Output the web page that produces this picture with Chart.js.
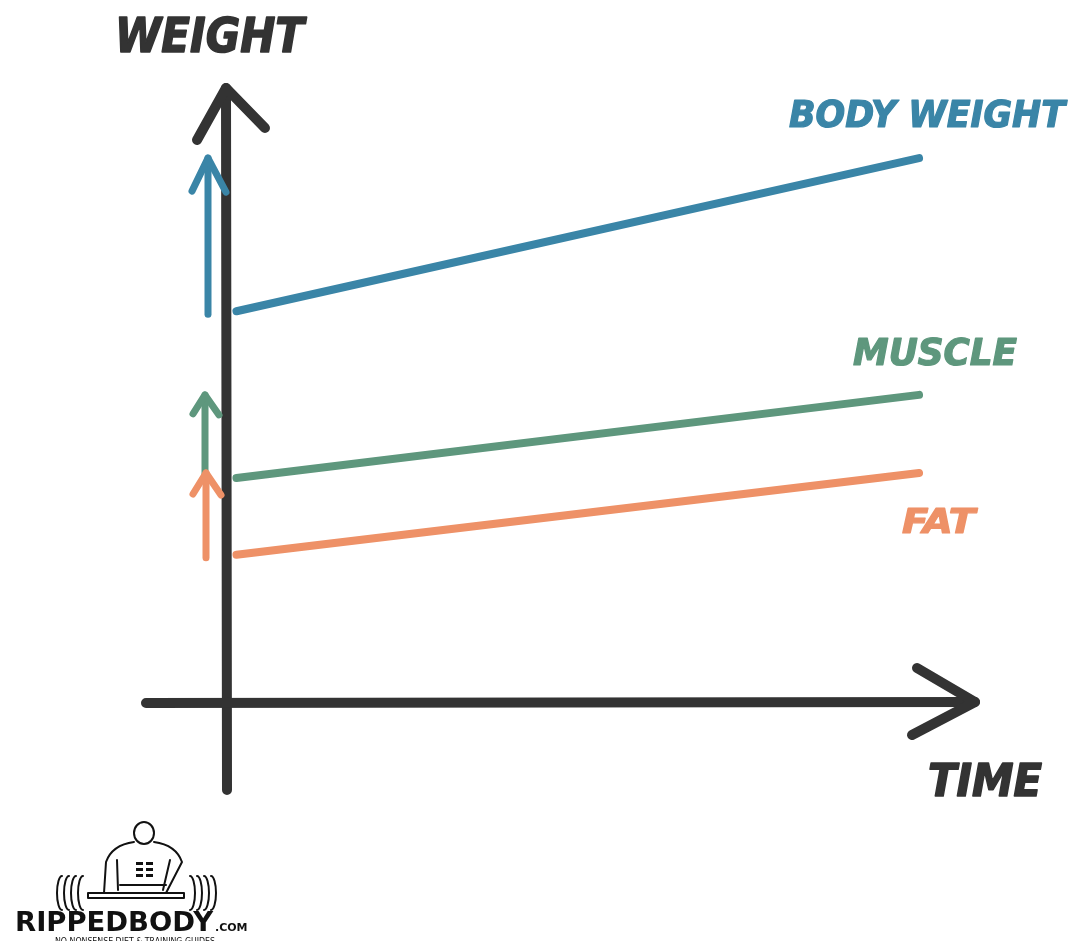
<!DOCTYPE html>
<html><head><meta charset="utf-8">
<script src="https://cdn.jsdelivr.net/npm/chart.js@4/dist/chart.umd.min.js"></script>
<style>html,body{margin:0;padding:0;background:#fff;}#wrap{width:1070px;height:941px;}</style>
</head><body><div id="wrap"><canvas id="c" width="1070" height="941"></canvas></div>
<script>
// ---- data ----
const timePoints = [1, 92.5];
const bodyWeight = [63.7, 88.6];
const muscle = [36.6, 50.1];
const fat = [24.1, 37.4];
const seriesNames = ['BODY WEIGHT', 'MUSCLE', 'FAT'];
const yAxisTitle = 'WEIGHT';
const xAxisTitle = 'TIME';

// ---- styles ----
const colors = ['#3a85a7', '#5e977d', '#ee9167'];
const ink = '#333333';
const FONT = '"DejaVu Sans Condensed", "DejaVu Sans", sans-serif';

function toPts(arr) { return arr.map((v, i) => ({x: timePoints[i], y: v})); }

function stroke(ctx, pts, w, color) {
  ctx.save();
  ctx.strokeStyle = color; ctx.lineWidth = w;
  ctx.lineCap = 'round'; ctx.lineJoin = 'round';
  ctx.beginPath(); ctx.moveTo(pts[0][0], pts[0][1]);
  for (let i = 1; i < pts.length; i++) ctx.lineTo(pts[i][0], pts[i][1]);
  ctx.stroke(); ctx.restore();
}

// draw text fitted into a box: left, baseline, width, cap height
function fitText(ctx, txt, left, base, width, capH, color, weight, italic, strokeW) {
  ctx.save();
  const size = capH / 0.729;
  ctx.font = (italic ? 'oblique ' : '') + (weight || 'bold') + ' ' + size + 'px ' + FONT;
  const m = ctx.measureText(txt).width;
  ctx.translate(left, base);
  ctx.scale(width / m, 1);
  ctx.fillStyle = color;
  ctx.textBaseline = 'alphabetic';
  ctx.textAlign = 'left';
  ctx.fillText(txt, 0, 0);
  if (strokeW) {
    ctx.strokeStyle = color; ctx.lineWidth = strokeW; ctx.lineJoin = 'round';
    ctx.strokeText(txt, 0, 0);
  }
  ctx.restore();
}

const sketchPlugin = {
  id: 'sketch',
  beforeDatasetsDraw(chart) {
    const ctx = chart.ctx;
    const xs = chart.scales.x, ys = chart.scales.y;
    const ax = xs.getPixelForValue(0) - 2;
    const ay = ys.getPixelForValue(0);
    const top = ys.getPixelForValue(100);
    const right = xs.getPixelForValue(100);
    // y axis
    stroke(ctx, [[ax, 790], [ax - 1, top]], 10, ink);
    stroke(ctx, [[ax - 30, top + 52], [ax - 1, top], [ax + 38, top + 40]], 10, ink);
    // x axis
    stroke(ctx, [[146, ay], [right, ay - 1]], 10, ink);
    stroke(ctx, [[right - 58, ay - 35], [right, ay - 1], [right - 63, ay + 32]], 10, ink);
  },
  afterDatasetsDraw(chart) {
    const ctx = chart.ctx;
    const xs = chart.scales.x, ys = chart.scales.y;
    const ax = xs.getPixelForValue(0);
    const series = chart.data.datasets;
    const offs = [21, 24, 23];
    const heads = [[16, 33], [12, 19], [13, 21]];
    series.forEach((ds, i) => {
      const x = ax - offs[i];
      const y0 = ys.getPixelForValue(ds.data[0].y) + 3;
      const y1 = ys.getPixelForValue(ds.data[ds.data.length - 1].y);
      stroke(ctx, [[x, y0], [x, y1]], 7, colors[i]);
      const [hw, hl] = heads[i];
      stroke(ctx, [[x - hw, y1 + hl], [x, y1], [x + hw + 2, y1 + hl + 1]], 7, colors[i]);
    });
    // labels
    fitText(ctx, yAxisTitle, 115, 52, 189, 35, ink, 'bold', true, 1.5);
    fitText(ctx, xAxisTitle, 928, 796, 114, 33, ink, 'bold', true, 1.5);
    fitText(ctx, seriesNames[0], 789, 127, 276, 27, colors[0], 'bold', true, 1.2);
    fitText(ctx, seriesNames[1], 853, 365, 164, 27, colors[1], 'bold', true, 1.2);
    fitText(ctx, seriesNames[2], 902, 533, 73, 25, colors[2], 'bold', true, 1.2);
    drawLogo(ctx);
  }
};

function drawLogo(ctx) {
  ctx.save();
  ctx.strokeStyle = '#111'; ctx.lineWidth = 2; ctx.lineCap = 'round'; ctx.lineJoin = 'round';
  // plates left
  for (let i = 0; i < 4; i++) {
    ctx.beginPath();
    ctx.ellipse(62 + i * 7, 893, 5, 17, 0, Math.PI * 0.5, Math.PI * 1.5);
    ctx.stroke();
  }
  // plates right
  for (let i = 0; i < 4; i++) {
    ctx.beginPath();
    ctx.ellipse(190 + i * 7, 893, 5, 17, 0, -Math.PI * 0.5, Math.PI * 0.5);
    ctx.stroke();
  }
  // bar
  ctx.beginPath(); ctx.rect(88, 893, 96, 5); ctx.stroke();
  // head
  ctx.beginPath(); ctx.ellipse(144, 833, 10, 11, 0, 0, Math.PI * 2); ctx.stroke();
  // body outline
  ctx.beginPath();
  ctx.moveTo(134, 842); ctx.quadraticCurveTo(112, 845, 106, 862);
  ctx.lineTo(104, 893);
  ctx.moveTo(154, 842); ctx.quadraticCurveTo(176, 845, 182, 862);
  ctx.lineTo(166, 893);
  ctx.moveTo(117, 860); ctx.lineTo(118, 890);
  ctx.moveTo(170, 860); ctx.lineTo(163, 890);
  ctx.moveTo(120, 885); ctx.lineTo(166, 885);
  ctx.stroke();
  // abs
  ctx.fillStyle = '#111';
  for (let r = 0; r < 3; r++) {
    ctx.fillRect(136, 862 + r * 6, 7, 3);
    ctx.fillRect(146, 862 + r * 6, 7, 3);
  }
  ctx.restore();
  ctx.save();
  ctx.fillStyle = '#111';
  ctx.font = 'bold 27px "DejaVu Sans", sans-serif';
  let m = ctx.measureText('RIPPEDBODY').width;
  ctx.translate(15, 931); ctx.scale(198 / m, 1);
  ctx.fillText('RIPPEDBODY', 0, 0);
  ctx.restore();
  ctx.save();
  ctx.fillStyle = '#111';
  ctx.font = 'bold 11px "DejaVu Sans", sans-serif';
  ctx.fillText('.COM', 215, 931);
  ctx.font = '8px "DejaVu Sans", sans-serif';
  m = ctx.measureText('NO NONSENSE DIET & TRAINING GUIDES').width;
  ctx.translate(55, 944); ctx.scale(160 / m, 1);
  ctx.fillText('NO NONSENSE DIET & TRAINING GUIDES', 0, 0);
  ctx.restore();
}

const datasets = [bodyWeight, muscle, fat].map((arr, i) => ({
  label: seriesNames[i],
  data: toPts(arr),
  borderColor: colors[i],
  borderWidth: 8,
  borderCapStyle: 'round',
  pointRadius: 0,
  tension: 0,
  fill: false
}));

new Chart(document.getElementById('c'), {
  type: 'line',
  data: { datasets },
  options: {
    responsive: false,
    devicePixelRatio: 1,
    animation: false,
    layout: { padding: { left: 229, right: 95, top: 88, bottom: 238 } },
    plugins: { legend: { display: false }, tooltip: { enabled: false } },
    scales: {
      x: { type: 'linear', min: 0, max: 100, display: false },
      y: { type: 'linear', min: 0, max: 100, display: false }
    }
  },
  plugins: [sketchPlugin]
});
</script>
</body></html>
